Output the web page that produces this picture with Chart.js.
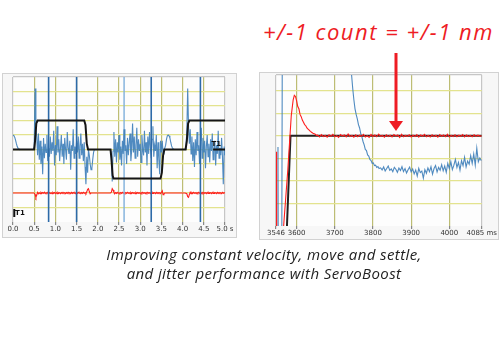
<!DOCTYPE html>
<html>
<head>
<meta charset="utf-8">
<script src="https://cdn.jsdelivr.net/npm/chart.js@4.4.1/dist/chart.umd.min.js"></script>
<style>
  body { margin: 0; width: 500px; height: 350px; background: #fff; position: relative; overflow: hidden; }
  .panel { position: absolute; box-sizing: border-box; border: 1px solid #d2d2d2; background: #f7f7f7; }
  canvas { position: absolute; }
  #note { position: absolute; left: 263px; top: 20px; font-family: "Open Sans", sans-serif; font-style: italic;
          font-size: 22px; line-height: 22px; letter-spacing: 1.5px; color: #ee1c24; white-space: nowrap; }
  #caption { position: absolute; left: 14px; width: 500px; top: 245px; text-align: center; font-family: "Open Sans", sans-serif;
             font-style: italic; font-size: 15px; line-height: 19px; letter-spacing: 0.4px; color: #222; }
  #arrow { position: absolute; left: 0; top: 0; }
</style>
</head>
<body>
<div class="panel" style="left:2px;top:73px;width:235px;height:165px;"></div>
<div class="panel" style="left:259px;top:72px;width:240px;height:168px;"></div>
<canvas id="leftChart" width="233" height="163" style="left:3px;top:74px;"></canvas>
<canvas id="rightChart" width="238" height="166" style="left:260px;top:73px;"></canvas>
<div id="note">+/-1 count = +/-1 nm</div>
<svg id="arrow" width="500" height="350">
  <line x1="396" y1="53" x2="396" y2="123" stroke="#ee1c24" stroke-width="3"/>
  <polygon points="389,121 403,121 396,131" fill="#ee1c24"/>
</svg>
<div id="caption">Improving constant velocity, move and settle,<br>and jitter performance with ServoBoost</div>
<script>
// ---- left scope trace (0 - 5 s), sampled every 20 ms ----
var leftStep = 0.02;
var leftTicks = [0, 0.5, 1, 1.5, 2, 2.5, 3, 3.5, 4, 4.5, 5];
var leftGridY = [0, 1, 2, 3, 4, 5, 6, 7, 8, 9, 10];
var leftBlue = [
  6.0, 5.95, 5.85, 5.65, 5.4, 5.2, 5.08, 5.02, 5.0, 5.0, 5.0, 5.0, 5.0, 5.0, 5.0, 5.0, 5.0, 5.0, 5.0, 5.0, 5.0, 5.0, 5.0, 5.0, 5.0,
  5.2, 9.2, 6.4, 5.9, 4.6, 6.1, 4.3, 5.6, 4.0, 5.2, 3.3, 5.8, 4.4, 5.4, 4.8, 6.0, 4.2, 5.1, 4.5, 5.9, 4.7, 5.5, 4.9, 6.3, 3.9,
  5.3, 4.6, 6.6, 4.8, 5.7, 4.2, 5.1, 6.0, 4.5, 5.4, 4.0, 5.8, 5.0, 4.3, 6.2, 5.1, 4.7, 5.6, 3.6, 5.3, 4.9, 6.4, 4.4, 5.2, 4.7,
  5.6, 4.8, 5.9, 4.4, 5.2, 6.1, 4.6, 5.4, 4.2, 5.5, 3.8, 2.6, 4.5, 3.4, 5.0, 4.6, 4.0, 3.6, 3.7, 4.3, 4.8, 5.0, 5.0, 5.0, 5.0,
  5.0, 5.0, 5.0, 5.0, 5.0, 5.0, 5.0, 5.0, 5.0, 5.0, 5.0, 5.0, 5.0, 5.0, 5.0, 5.0, 4.6, 2.8, 4.9, 6.2, 4.5, 5.7, 4.1, 5.5, 4.8,
  6.0, 4.3, 5.2, 3.9, 5.6, 4.7, 6.4, 4.9, 5.3, 4.0, 5.8, 4.6, 5.5, 6.1, 4.2, 5.0, 6.8, 4.8, 5.9, 4.4, 5.3, 6.5, 4.5, 5.7, 4.9,
  5.4, 4.1, 6.0, 5.0, 4.6, 6.3, 4.8, 5.5, 3.9, 5.9, 4.7, 6.2, 5.1, 4.4, 5.7, 6.6, 4.5, 5.3, 4.9, 6.0, 3.7, 5.5, 4.3, 3.3, 5.6,
  4.8, 5.6, 4.7, 5.0, 5.1, 5.3, 5.7, 5.95, 6.0, 5.95, 5.8, 5.5, 5.25, 5.1, 5.03, 5.0, 5.0, 5.0, 5.0, 5.0, 5.0, 5.0, 5.0, 5.0, 5.0,
  5.0, 5.0, 5.0, 5.0, 5.2, 6.3, 9.2, 6.6, 5.4, 6.4, 4.7, 5.9, 4.2, 5.5, 3.8, 5.7, 4.6, 6.2, 4.9, 5.3, 4.0, 5.5, 6.5, 4.4, 5.8,
  4.8, 5.6, 3.7, 5.2, 6.0, 4.5, 5.4, 4.1, 5.7, 4.9, 6.1, 4.3, 5.0, 5.6, 3.9, 5.3, 4.7, 6.3, 4.4, 5.1, 4.6, 5.8, 4.5, 2.6, 5.2,
  4.6
];
var leftRed = [
  2.0, 2.0, 2.0, 2.0, 2.0, 2.0, 2.0, 2.0, 2.0, 2.0, 2.0, 2.0, 2.0, 2.0, 2.0, 2.0, 2.0, 2.0, 2.0, 2.0, 2.0, 2.0, 2.0, 2.0, 2.0,
  2.0, 1.9, 1.7, 1.85, 2.05, 1.95, 2.02, 1.96, 2.04, 1.97, 2.03, 1.98, 2.05, 1.96, 2.02, 1.98, 2.04, 1.95, 2.03, 1.97, 2.02, 1.96, 2.04, 1.98, 2.03,
  1.97, 2.03, 1.96, 2.04, 1.98, 2.02, 1.95, 2.03, 1.97, 2.04, 1.98, 2.02, 1.96, 2.03, 1.97, 2.05, 1.98, 2.02, 1.96, 2.04, 1.97, 2.03, 1.98, 2.02, 1.96,
  2.03, 1.97, 2.04, 1.98, 2.02, 1.96, 2.03, 1.97, 2.05, 1.98, 2.02, 1.95, 2.08, 2.25, 2.3, 2.1, 1.95, 2.0, 2.0, 2.0, 2.0, 2.0, 2.0, 2.0, 2.0,
  2.0, 2.0, 2.0, 2.0, 2.0, 2.0, 2.0, 2.0, 2.0, 2.0, 2.0, 2.0, 2.0, 2.0, 2.0, 2.0, 2.05, 2.3, 2.2, 2.05, 1.96, 2.03, 1.97, 2.04, 1.98,
  2.02, 1.96, 2.03, 1.97, 2.04, 1.98, 2.02, 1.96, 2.03, 1.97, 2.05, 1.98, 2.02, 1.96, 2.04, 1.97, 2.03, 1.98, 2.02, 1.96, 2.04, 1.97, 2.03, 1.98, 2.02,
  1.96, 2.03, 1.97, 2.04, 1.98, 2.02, 1.96, 2.03, 1.97, 2.05, 1.98, 2.02, 1.96, 2.04, 1.97, 2.03, 1.98, 2.02, 1.96, 2.04, 1.97, 2.03, 1.98, 2.02, 1.96,
  2.04, 2.15, 1.88, 1.95, 2.0, 2.0, 2.0, 2.0, 2.0, 2.0, 2.0, 2.0, 2.0, 2.0, 2.0, 2.0, 2.0, 2.0, 2.0, 2.0, 2.0, 2.0, 2.0, 2.0, 2.0,
  2.0, 2.0, 2.0, 2.0, 2.0, 1.95, 1.75, 1.7, 1.9, 2.05, 1.96, 2.03, 1.97, 2.04, 1.98, 2.02, 1.96, 2.03, 1.97, 2.05, 1.98, 2.02, 1.96, 2.04, 1.97,
  2.03, 1.98, 2.02, 1.96, 2.04, 1.97, 2.03, 1.98, 2.02, 1.96, 2.04, 1.97, 2.03, 1.98, 2.02, 1.96, 2.04, 1.97, 2.03, 1.98, 2.02, 1.96, 2.04, 1.98, 2.02,
  2.0
];
var leftBlackT = [0, 0.5, 0.52, 0.55, 0.58, 1.68, 1.71, 1.74, 1.77, 2.3, 2.32, 2.35, 2.37, 3.48, 3.51, 3.54, 3.57, 4.07, 4.1, 4.13, 4.16, 5];
var leftBlackV = [5, 5, 5.6, 6.8, 7, 7, 6.7, 5.4, 5, 5, 4.4, 3.2, 3, 3, 3.4, 4.6, 5, 5, 5.6, 6.8, 7, 7];
var leftSpikeDark = [0.84, 1.5, 3.26, 4.42];
var leftSpikeLight = [2.62];
var leftMarkT = [0.03, 0.03, null, 4.72, 5];
var leftMarkV = [0.35, 0.9, null, 5, 5];

// ---- right scope trace (3546 - 4085 ms) ----
var rightTicks = [3546, 3600, 3700, 3800, 3900, 4000, 4085];
var rightGridY = [0, 1, 2, 3, 4, 5, 6, 6.7];
var rightBlackT = [3574, 3584, 4085];
var rightBlackV = [-0.3, 4, 4];
var rightRedHeadT = [3546.6, 3547.6, 3565, 3566, 3577, 3586, 3591, 3594, 3597, 3600, 3603, 3606, 3609, 3612, 3615, 3618, 3621, 3624, 3627, 3630, 3633, 3636, 3640, 3644, 3648, 3652];
var rightRedHeadV = [3.3, -2, -2, 0, 2.5, 4.9, 5.6, 5.8, 5.75, 5.55, 5.3, 5.2, 4.95, 4.85, 4.7, 4.6, 4.5, 4.45, 4.35, 4.3, 4.25, 4.2, 4.15, 4.1, 4.08, 4.02];
var rightRedStart = 3655, rightRedStep = 5;
var rightRedTail = [
  4.03, 3.95, 4.06, 3.97, 4.02, 3.94, 4.05, 3.98, 4.07, 3.96,
  4.01, 3.93, 4.06, 3.99, 4.04, 3.95, 4.08, 3.97, 4.02, 3.94,
  4.05, 3.96, 4.03, 3.98, 4.07, 3.95, 4.01, 3.93, 4.06, 3.97,
  4.04, 3.96, 4.08, 3.98, 4.02, 3.94, 4.05, 3.97, 4.03, 3.95,
  4.06, 3.99, 4.04, 3.93, 4.07, 3.96, 4.02, 3.98, 4.05, 3.95,
  4.03, 3.97, 4.06, 3.94, 4.04, 3.98, 4.07, 3.96, 4.02, 3.95,
  4.05, 3.97, 4.03, 3.94, 4.06, 3.98, 4.04, 3.96, 4.07, 3.95,
  4.02, 3.97, 4.05, 3.96, 4.03, 3.98, 4.06, 3.95, 4.04, 3.97,
  4.02, 3.96, 4.05, 3.98, 4.03, 3.99, 4.0
];
var rightBlueHeadT = [3546, 3550.5, 3551.2, 3552, 3561, 3562.5, 3741, 3744, 3747, 3750, 3753, 3756, 3759, 3762, 3765, 3768, 3771, 3774, 3777, 3780, 3783, 3786, 3789, 3792, 3795, 3798, 3801, 3804, 3807, 3810, 3813, 3816];
var rightBlueHeadV = [-2, -2, 3.5, -2, -2, 8, 8, 6.7, 6.1, 5.6, 5.2, 4.95, 4.75, 4.5, 4.35, 4.1, 3.95, 3.75, 3.6, 3.4, 3.35, 3.15, 3.1, 2.95, 2.9, 2.78, 2.8, 2.68, 2.7, 2.6, 2.64, 2.55];
var rightBlueStart = 3820, rightBlueStep = 4;
var rightBlueTail = [
  2.58, 2.49, 2.62, 2.44, 2.55, 2.66, 2.47, 2.53, 2.41, 2.6,
  2.52, 2.38, 2.57, 2.46, 2.63, 2.42, 2.55, 2.35, 2.5, 2.61,
  2.4, 2.53, 2.31, 2.48, 2.22, 2.56, 2.37, 2.44, 2.12, 2.5,
  2.34, 2.58, 2.41, 2.63, 2.3, 2.55, 2.68, 2.4, 2.6, 2.47,
  2.72, 2.45, 2.66, 2.38, 2.78, 2.55, 2.85, 2.5, 2.7, 2.95,
  2.6, 2.82, 2.48, 2.9, 2.68, 3.05, 2.62, 2.88, 2.74, 3.12,
  2.78, 3.2, 2.7, 3.45, 2.85, 3.02, 2.9
];

function sampled(vals, start, step) {
  return vals.map(function (v, i) { return { x: +(start + i * step).toFixed(3), y: v }; });
}
function pairs(xs, ys) {
  return xs.map(function (x, i) { return { x: x, y: ys[i] }; });
}
function spikes(times, top, bottom) {
  var out = [];
  times.forEach(function (t) { out.push({ x: t, y: top }, { x: t, y: bottom }, { x: t, y: null }); });
  return out;
}

var plotBg = {
  id: 'plotBg',
  beforeDraw: function (chart) {
    var a = chart.chartArea, c = chart.ctx;
    c.save();
    c.fillStyle = '#fdfdfd';
    c.fillRect(a.left, a.top, a.width, a.height);
    c.restore();
  }
};

var markerText = {
  id: 'markerText',
  afterDatasetsDraw: function (chart) {
    var c = chart.ctx, xs = chart.scales.x, ys = chart.scales.y;
    c.save();
    c.fillStyle = '#111';
    c.font = 'bold 7px "DejaVu Sans", sans-serif';
    c.textBaseline = 'middle';
    c.fillText('T1', xs.getPixelForValue(0.05), ys.getPixelForValue(0.6));
    c.fillText('T1', xs.getPixelForValue(4.68), ys.getPixelForValue(5.35));
    c.restore();
  }
};

function scopeScales(xmin, xmax, xTicks, xLabel, ymax, yTicks) {
  var last = xTicks[xTicks.length - 1];
  return {
    x: {
      type: 'linear', min: xmin, max: xmax,
      afterBuildTicks: function (s) { s.ticks = xTicks.map(function (v) { return { value: v }; }); },
      ticks: {
        autoSkip: false, maxRotation: 0, padding: 1, color: '#333',
        font: { family: '"DejaVu Sans", sans-serif', size: 7, lineHeight: 1 },
        callback: function (v) { return v === last ? xLabel : (xmax < 10 ? v.toFixed(1) : String(v)); }
      },
      grid: {
        tickLength: 3, tickColor: '#888', lineWidth: 1.2,
        color: function (ctx) {
          var v = ctx.tick && ctx.tick.value;
          return (v === xmin || v === xmax) ? '#c6c6c6' : '#bdbd74';
        }
      },
      border: { display: false }
    },
    y: {
      min: 0, max: ymax,
      afterBuildTicks: function (s) { s.ticks = yTicks.map(function (v) { return { value: v }; }); },
      ticks: { display: false },
      grid: {
        drawTicks: false, lineWidth: 1.3,
        color: function (ctx) {
          var v = ctx.tick && ctx.tick.value;
          if (v === 0) return 'rgba(0,0,0,0)';
          if (v === ymax) return '#c6c6c6';
          return '#e3e38e';
        }
      },
      border: { display: false }
    }
  };
}

var common = {
  responsive: false, animation: false, devicePixelRatio: 1,
  parsing: false, normalized: true,
  plugins: { legend: { display: false }, tooltip: { enabled: false } },
  elements: { point: { radius: 0 }, line: { tension: 0 } }
};

new Chart(document.getElementById('leftChart'), {
  type: 'line',
  data: {
    datasets: [
      { data: pairs(leftBlackT, leftBlackV), borderColor: '#151515', borderWidth: 2 },
      { data: pairs(leftMarkT, leftMarkV), borderColor: '#111', borderWidth: 2 },
      { data: spikes(leftSpikeDark, 10.5, -0.5), borderColor: '#2d6aa8', borderWidth: 1.6 },
      { data: sampled(leftBlue, 0, leftStep), borderColor: 'rgba(60,125,185,0.9)', borderWidth: 1.1 },
      { data: spikes(leftSpikeLight, 10.5, -0.5), borderColor: '#7fb0dc', borderWidth: 1.4 },
      { data: sampled(leftRed, 0, leftStep), borderColor: '#ff1e1e', borderWidth: 1.1 }
    ]
  },
  options: Object.assign({}, common, {
    layout: { padding: { left: 10, right: 11, top: 3, bottom: 3 } },
    scales: scopeScales(0, 5, leftTicks, '5.0 s', 10, leftGridY)
  }),
  plugins: [plotBg, markerText]
});

new Chart(document.getElementById('rightChart'), {
  type: 'line',
  data: {
    datasets: [
      { data: pairs(rightRedHeadT, rightRedHeadV).concat(sampled(rightRedTail, rightRedStart, rightRedStep)), borderColor: '#ff1e1e', borderWidth: 1.1 },
      { data: pairs(rightBlackT, rightBlackV), borderColor: '#222', borderWidth: 2 },
      { data: pairs(rightBlueHeadT, rightBlueHeadV).concat(sampled(rightBlueTail, rightBlueStart, rightBlueStep)), borderColor: 'rgba(60,125,185,0.9)', borderWidth: 1.1 }
    ]
  },
  options: Object.assign({}, common, {
    layout: { padding: { left: 16, right: 16, top: 2, bottom: 1 } },
    scales: scopeScales(3546, 4085, rightTicks, '4085 ms', 6.7, rightGridY)
  }),
  plugins: [plotBg]
});
</script>
</body>
</html>
